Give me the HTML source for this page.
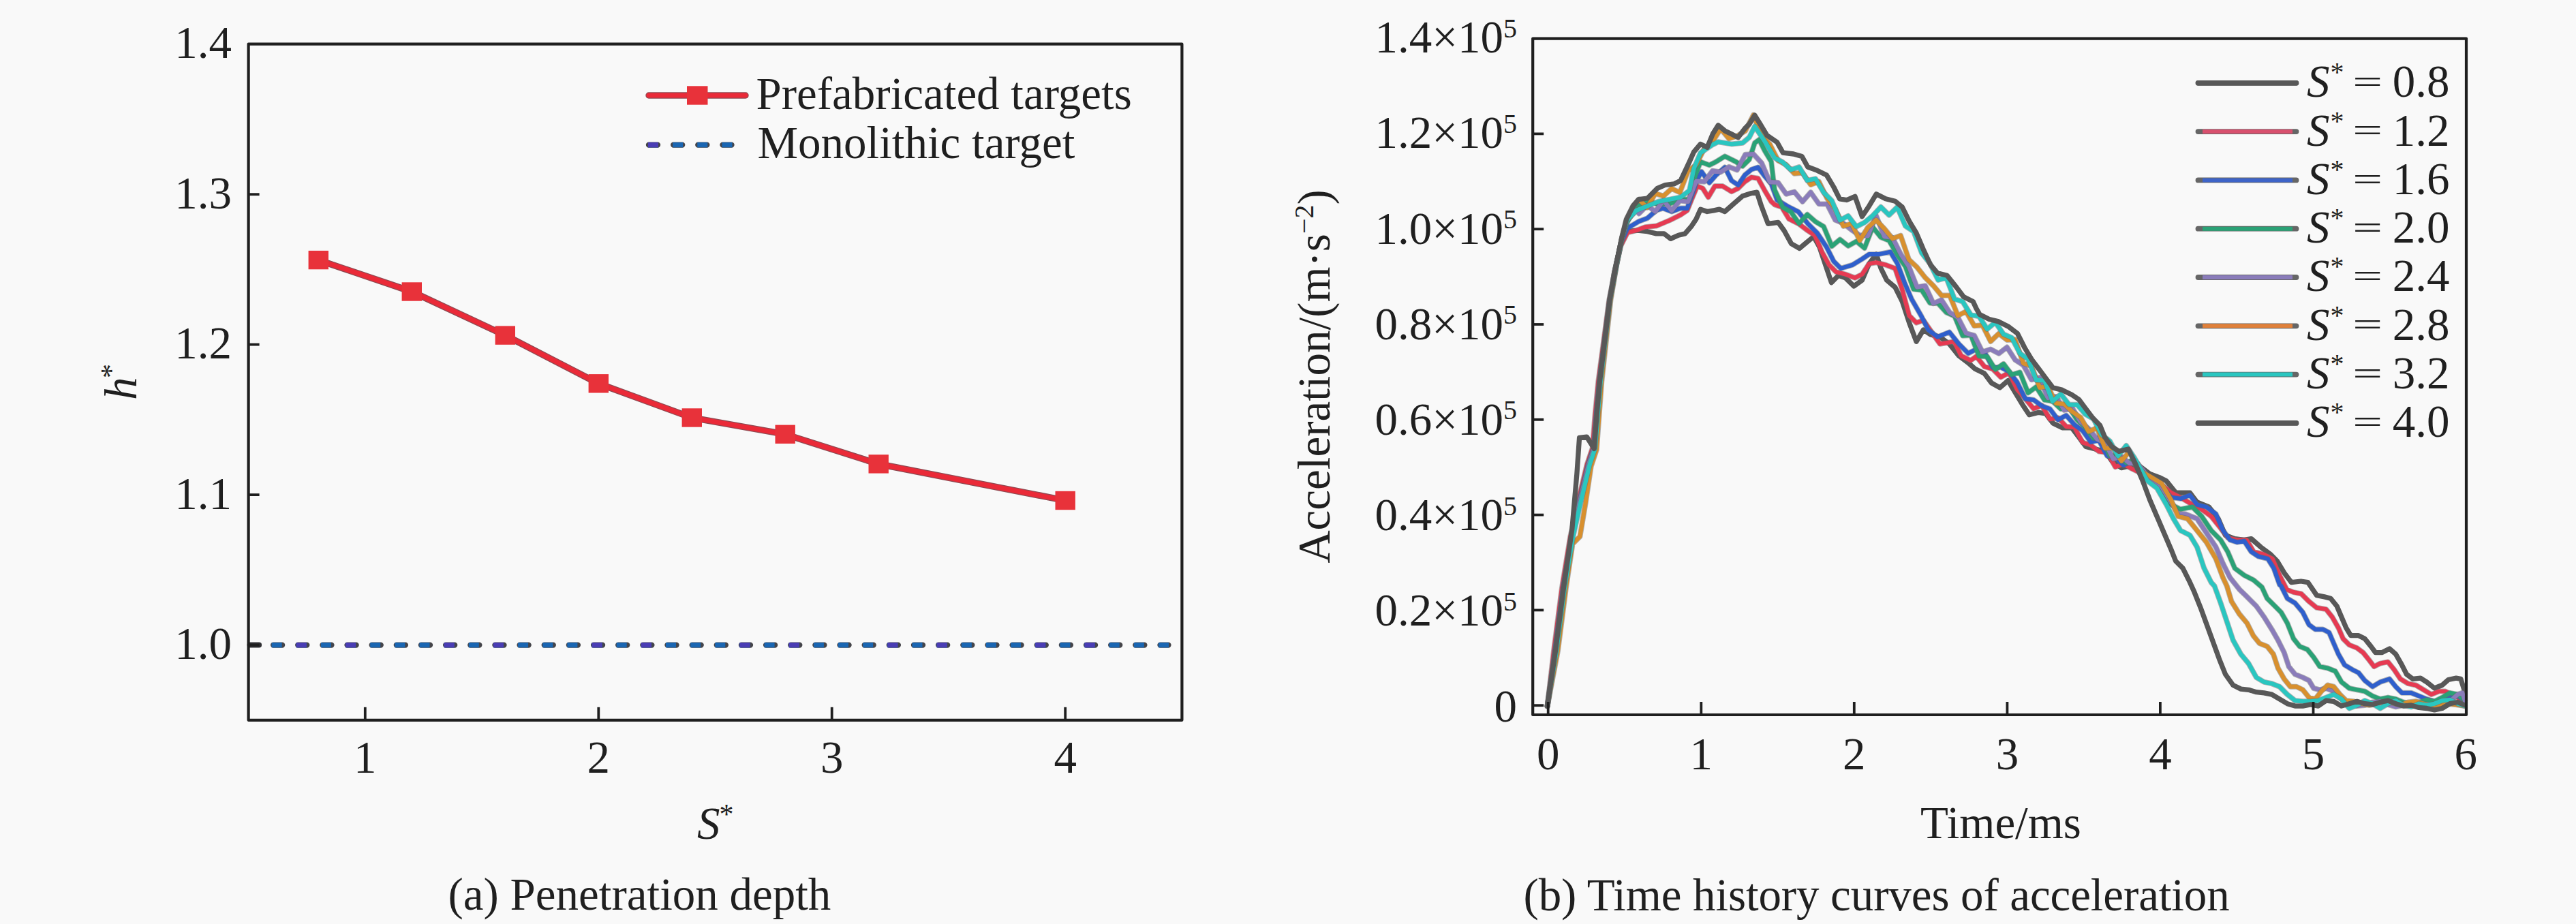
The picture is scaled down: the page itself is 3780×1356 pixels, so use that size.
<!DOCTYPE html>
<html lang="en"><head><meta charset="utf-8"><title>Penetration depth and acceleration time history</title>
<style>
html,body{margin:0;padding:0;background:#f9f9f9;}
body{width:3780px;height:1356px;overflow:hidden;}
svg{display:block;}
text{font-family:"Liberation Serif", "Times New Roman", serif;fill:#1f1f1f;}
.t{font-size:67px;}
.i{font-style:italic;}
.s{font-size:40px;}
.a{font-size:42px;}
</style></head><body>
<svg width="3780" height="1356" viewBox="0 0 3780 1356">
<rect x="0" y="0" width="3780" height="1356" fill="#f9f9f9"/>
<g id="left">
<g fill="none">
<line x1="366.6" y1="946.6" x2="380.1" y2="946.6" stroke="#303034" stroke-width="8" stroke-linecap="round"/>
<line x1="401.1" y1="946.6" x2="1714.4" y2="946.6" stroke="#45454a" stroke-width="8.4" stroke-linecap="round" stroke-dasharray="13 23.15"/>
<line x1="398.6" y1="946.6" x2="1715.4" y2="946.6" stroke="#1a66b2" stroke-width="7.4" stroke-dasharray="15 21.15"/>
<line x1="398.6" y1="946.6" x2="1715.4" y2="946.6" stroke="#4a3db4" stroke-width="7.4" stroke-dasharray="15 57.3 15 129.6" stroke-dashoffset="-36.15"/>
</g>
<polyline points="467.3,381.6 604.3,428.0 741.3,492.1 878.3,562.8 1015.3,613.0 1152.2,637.3 1289.2,680.9 1563.2,734.5" fill="none" stroke="#8f4a52" stroke-width="9.8" stroke-linejoin="round" stroke-linecap="round"/>
<polyline points="467.3,381.6 604.3,428.0 741.3,492.1 878.3,562.8 1015.3,613.0 1152.2,637.3 1289.2,680.9 1563.2,734.5" fill="none" stroke="#ea2a38" stroke-width="7.2" stroke-linejoin="round" stroke-linecap="round"/>
<rect x="452.6" y="367.9" width="29.4" height="27.4" fill="#e8323a"/>
<rect x="589.6" y="414.3" width="29.4" height="27.4" fill="#e8323a"/>
<rect x="726.6" y="478.4" width="29.4" height="27.4" fill="#e8323a"/>
<rect x="863.6" y="549.1" width="29.4" height="27.4" fill="#e8323a"/>
<rect x="1000.6" y="599.3" width="29.4" height="27.4" fill="#e8323a"/>
<rect x="1137.5" y="623.6" width="29.4" height="27.4" fill="#e8323a"/>
<rect x="1274.5" y="667.2" width="29.4" height="27.4" fill="#e8323a"/>
<rect x="1548.5" y="720.8" width="29.4" height="27.4" fill="#e8323a"/>
<rect x="364.6" y="64.7" width="1369.8" height="992.1" fill="none" stroke="#1f1f1f" stroke-width="4.2" stroke-linejoin="round"/>
<g stroke="#1f1f1f" stroke-width="3.8">
<line x1="535.8" y1="1056.8" x2="535.8" y2="1037.8"/>
<line x1="878.3" y1="1056.8" x2="878.3" y2="1037.8"/>
<line x1="1220.7" y1="1056.8" x2="1220.7" y2="1037.8"/>
<line x1="1563.2" y1="1056.8" x2="1563.2" y2="1037.8"/>
<line x1="364.6" y1="946.6" x2="380.6" y2="946.6"/>
<line x1="364.6" y1="726.1" x2="380.6" y2="726.1"/>
<line x1="364.6" y1="505.6" x2="380.6" y2="505.6"/>
<line x1="364.6" y1="285.2" x2="380.6" y2="285.2"/>
</g>
<g class="t" text-anchor="middle">
<text x="535.8" y="1134.3">1</text>
<text x="878.3" y="1134.3">2</text>
<text x="1220.7" y="1134.3">3</text>
<text x="1563.2" y="1134.3">4</text>
</g>
<g class="t" text-anchor="end">
<text x="340" y="967.1">1.0</text>
<text x="340" y="746.6">1.1</text>
<text x="340" y="526.1">1.2</text>
<text x="340" y="305.7">1.3</text>
<text x="340" y="85.2">1.4</text>
</g>
<text class="t i" x="1023" y="1231">S<tspan class="a" font-style="normal" dx="-1" dy="-22.5">*</tspan></text>
<text class="t i" transform="translate(199.5,587) rotate(-90)">h<tspan class="a" font-style="normal" dx="-1.5" dy="-23">*</tspan></text>
<line x1="952" y1="140" x2="1094" y2="140" stroke="#8f4a52" stroke-width="9.4" stroke-linecap="round"/>
<line x1="952" y1="140" x2="1094" y2="140" stroke="#ea2a38" stroke-width="7.0" stroke-linecap="round"/>
<rect x="1008" y="126.3" width="30.5" height="27.4" fill="#e8323a"/>
<g fill="none">
<line x1="952" y1="212.6" x2="1078.5" y2="212.6" stroke="#45454a" stroke-width="8.4" stroke-linecap="round" stroke-dasharray="13 23.15"/>
<line x1="951" y1="212.6" x2="1079.5" y2="212.6" stroke="#1a66b2" stroke-width="7.4" stroke-dasharray="15 21.15"/>
<line x1="951" y1="212.6" x2="966" y2="212.6" stroke="#4a3db4" stroke-width="7.4"/>
</g>
<text class="t" x="1109.5" y="160.3">Prefabricated targets</text>
<text class="t" x="1111.5" y="232.3">Monolithic target</text>
<text class="t" x="657.5" y="1335.3">(a) Penetration depth</text>
</g>
<g id="right">
<g fill="none" stroke-linejoin="round" stroke-linecap="round">
<polyline points="2270.6,1036.2 2282.5,955.0 2294.4,863.0 2306.8,787.3 2317.6,738.6 2331.2,681.8 2339.3,657.4 2343.1,608.7 2347.4,560.0 2362.2,440.0 2368.7,399.7 2376.8,364.0 2386.6,339.7 2402.8,338.1 2417.4,339.7 2430.4,342.9 2441.8,342.9 2451.5,350.4 2462.9,345.2 2472.6,342.9 2482.3,331.6 2488.8,321.8 2495.3,307.2 2505.1,310.5 2514.8,308.8 2522.9,307.2 2531.0,310.5 2544.0,299.1 2557.0,287.7 2570.0,283.5 2578.1,282.2 2584.6,302.3 2594.4,328.3 2609.4,326.4 2618.1,338.5 2628.5,357.6 2640.6,364.5 2651.0,355.8 2661.4,347.2 2670.0,362.8 2680.4,393.9 2687.4,414.7 2697.7,404.3 2708.1,407.8 2720.3,419.9 2732.4,411.3 2742.8,387.0 2753.2,373.2 2760.1,393.9 2768.7,411.3 2780.9,421.6 2791.3,442.4 2801.6,473.6 2812.0,501.3 2822.4,484.0 2832.8,490.9 2846.7,494.4 2860.5,504.8 2874.4,522.1 2888.2,532.5 2898.1,541.2 2911.9,548.1 2922.3,562.0 2934.5,568.9 2946.6,558.5 2957.0,575.8 2967.4,593.2 2977.7,608.7 2991.6,605.3 3002.0,607.0 3012.4,620.9 3026.2,627.8 3040.1,627.8 3050.5,641.6 3060.9,655.5 3074.7,659.0 3088.6,662.4 3099.0,676.3 3112.8,686.7 3126.7,683.2 3140.8,685.0 3154.6,695.4 3168.5,700.6 3178.9,705.8 3192.7,723.1 3213.5,723.1 3223.9,737.0 3241.2,743.9 3255.1,761.2 3265.5,785.5 3279.3,790.6 3293.2,792.4 3303.5,790.6 3317.4,802.8 3331.3,813.2 3341.6,823.5 3352.0,840.9 3362.4,854.7 3376.3,853.0 3386.7,854.7 3399.5,873.6 3410.9,875.9 3420.0,878.2 3429.1,889.5 3435.9,905.5 3442.7,921.4 3449.5,932.7 3460.9,932.7 3470.0,937.3 3479.1,948.6 3485.9,957.7 3495.0,957.7 3506.4,952.0 3515.5,960.0 3524.5,975.9 3531.4,989.5 3540.5,996.4 3551.8,995.2 3560.9,1000.9 3572.3,1010.0 3583.6,1005.5 3592.7,997.5 3604.1,995.2 3610.9,996.4 3616.6,1014.5 3617.0,1032.7" stroke="#585858" stroke-width="7.3"/>
<polyline points="2270.6,1036.2 2280.0,955.0 2291.9,863.0 2304.3,787.3 2315.1,738.6 2328.7,681.8 2336.8,657.4 2340.6,608.7 2345.3,560.0 2361.3,440.0 2369.9,396.5 2378.3,360.8 2388.2,341.3 2401.2,338.1 2414.2,333.2 2430.4,331.6 2449.9,323.4 2466.1,315.3 2475.8,308.8 2482.3,292.6 2490.5,273.1 2498.6,276.4 2506.7,289.4 2516.4,273.1 2527.8,273.1 2540.8,281.2 2550.5,276.4 2560.3,266.6 2570.0,260.1 2579.7,261.8 2589.5,279.6 2599.2,295.8 2604.2,300.4 2614.6,303.9 2625.0,321.2 2638.9,328.1 2652.7,338.5 2663.1,345.5 2673.5,369.7 2683.9,388.7 2694.3,399.1 2708.1,402.6 2722.0,407.8 2732.4,402.6 2742.8,387.0 2753.2,385.3 2767.0,388.7 2780.9,393.9 2791.3,425.1 2801.6,463.2 2812.0,473.6 2822.4,470.1 2834.5,487.4 2846.7,504.8 2867.4,501.3 2877.8,522.1 2891.7,529.0 2900.0,523.1 2912.0,538.0 2924.0,541.4 2936.0,553.5 2948.0,547.0 2960.0,571.7 2972.0,585.2 2984.0,599.8 2996.0,595.0 3008.0,615.1 3020.0,613.2 3032.0,625.9 3044.0,627.1 3056.0,649.4 3068.0,653.3 3080.0,662.5 3092.0,664.1 3104.0,685.3 3116.0,680.9 3128.0,687.7 3154.6,700.6 3171.9,711.0 3185.8,723.1 3199.7,730.0 3217.0,740.4 3230.8,747.4 3244.7,757.7 3258.5,775.1 3268.9,788.9 3282.8,792.4 3296.6,792.4 3307.0,809.7 3320.9,813.2 3334.7,820.1 3345.1,844.3 3355.5,865.1 3365.5,869.1 3376.8,871.4 3388.2,882.7 3399.5,891.8 3413.2,894.1 3422.3,905.5 3431.4,921.4 3438.2,937.3 3447.3,946.4 3458.6,950.9 3467.7,957.7 3476.8,969.1 3483.6,978.2 3492.7,973.6 3504.1,971.4 3513.2,982.7 3522.3,996.4 3533.6,1003.2 3545.0,1005.5 3556.4,1012.3 3567.7,1019.1 3579.1,1014.5 3588.2,1014.5 3597.3,1019.1 3606.4,1023.6 3617.0,1030.5" stroke="#6a6a6a" stroke-width="8.0" stroke-opacity="0.5"/>
<polyline points="2270.6,1036.2 2280.0,955.0 2291.9,863.0 2304.3,787.3 2315.1,738.6 2328.7,681.8 2336.8,657.4 2340.6,608.7 2345.3,560.0 2361.3,440.0 2369.9,396.5 2378.3,360.8 2388.2,341.3 2401.2,338.1 2414.2,333.2 2430.4,331.6 2449.9,323.4 2466.1,315.3 2475.8,308.8 2482.3,292.6 2490.5,273.1 2498.6,276.4 2506.7,289.4 2516.4,273.1 2527.8,273.1 2540.8,281.2 2550.5,276.4 2560.3,266.6 2570.0,260.1 2579.7,261.8 2589.5,279.6 2599.2,295.8 2604.2,300.4 2614.6,303.9 2625.0,321.2 2638.9,328.1 2652.7,338.5 2663.1,345.5 2673.5,369.7 2683.9,388.7 2694.3,399.1 2708.1,402.6 2722.0,407.8 2732.4,402.6 2742.8,387.0 2753.2,385.3 2767.0,388.7 2780.9,393.9 2791.3,425.1 2801.6,463.2 2812.0,473.6 2822.4,470.1 2834.5,487.4 2846.7,504.8 2867.4,501.3 2877.8,522.1 2891.7,529.0 2900.0,523.1 2912.0,538.0 2924.0,541.4 2936.0,553.5 2948.0,547.0 2960.0,571.7 2972.0,585.2 2984.0,599.8 2996.0,595.0 3008.0,615.1 3020.0,613.2 3032.0,625.9 3044.0,627.1 3056.0,649.4 3068.0,653.3 3080.0,662.5 3092.0,664.1 3104.0,685.3 3116.0,680.9 3128.0,687.7 3154.6,700.6 3171.9,711.0 3185.8,723.1 3199.7,730.0 3217.0,740.4 3230.8,747.4 3244.7,757.7 3258.5,775.1 3268.9,788.9 3282.8,792.4 3296.6,792.4 3307.0,809.7 3320.9,813.2 3334.7,820.1 3345.1,844.3 3355.5,865.1 3365.5,869.1 3376.8,871.4 3388.2,882.7 3399.5,891.8 3413.2,894.1 3422.3,905.5 3431.4,921.4 3438.2,937.3 3447.3,946.4 3458.6,950.9 3467.7,957.7 3476.8,969.1 3483.6,978.2 3492.7,973.6 3504.1,971.4 3513.2,982.7 3522.3,996.4 3533.6,1003.2 3545.0,1005.5 3556.4,1012.3 3567.7,1019.1 3579.1,1014.5 3588.2,1014.5 3597.3,1019.1 3606.4,1023.6 3617.0,1030.5" stroke="#e63a52" stroke-width="6.2"/>
<polyline points="2270.6,1036.2 2281.5,955.0 2293.4,863.0 2305.8,787.3 2316.6,738.6 2330.2,681.8 2338.3,657.4 2342.1,608.7 2346.6,560.0 2361.8,440.0 2370.1,394.9 2378.4,357.5 2388.2,334.8 2404.4,325.1 2417.4,320.2 2430.4,308.8 2440.1,305.6 2453.1,310.5 2466.1,305.6 2475.8,305.6 2484.0,282.9 2490.5,263.4 2496.9,252.0 2508.3,268.2 2518.1,256.9 2531.0,245.5 2540.8,265.0 2550.5,271.5 2560.3,256.9 2570.0,248.8 2579.7,245.5 2589.5,258.5 2599.2,269.9 2607.7,293.5 2625.0,303.9 2638.9,310.8 2652.7,328.1 2666.6,342.0 2680.4,362.8 2690.8,383.5 2701.2,393.9 2718.5,388.7 2732.4,380.1 2742.8,373.2 2756.6,373.2 2773.9,369.7 2784.3,387.0 2794.7,414.7 2805.1,439.0 2819.0,463.2 2829.4,484.0 2843.2,494.4 2860.5,487.4 2874.4,504.8 2888.2,518.6 2900.0,512.5 2912.0,516.6 2924.0,539.4 2936.0,538.9 2948.0,545.3 2960.0,561.0 2972.0,585.3 2984.0,586.8 2996.0,595.6 3008.0,600.1 3020.0,616.1 3032.0,609.6 3044.0,623.3 3056.0,631.9 3068.0,648.6 3080.0,646.2 3092.0,669.0 3104.0,671.5 3116.0,682.7 3128.0,676.7 3154.6,702.3 3171.9,714.5 3185.8,730.0 3199.7,731.8 3213.5,726.6 3223.9,740.4 3237.7,743.9 3251.6,754.3 3262.0,778.5 3272.4,792.4 3282.8,795.8 3293.2,794.1 3303.5,809.7 3313.9,816.6 3327.8,820.1 3336.5,833.9 3345.1,858.2 3347.3,860.0 3356.4,878.2 3367.7,885.0 3379.1,898.6 3388.2,916.8 3397.3,923.6 3408.6,923.6 3417.7,928.2 3424.5,944.1 3431.4,960.0 3440.5,975.9 3451.8,982.7 3460.9,987.3 3470.0,998.6 3481.4,1007.7 3492.7,1000.9 3506.4,996.4 3515.5,1007.7 3524.5,1016.8 3538.2,1016.8 3549.5,1021.4 3560.9,1025.9 3572.3,1029.3 3583.6,1028.2 3595.0,1023.6 3606.4,1021.4 3617.0,1028.2" stroke="#6a6a6a" stroke-width="8.0" stroke-opacity="0.5"/>
<polyline points="2270.6,1036.2 2281.5,955.0 2293.4,863.0 2305.8,787.3 2316.6,738.6 2330.2,681.8 2338.3,657.4 2342.1,608.7 2346.6,560.0 2361.8,440.0 2370.1,394.9 2378.4,357.5 2388.2,334.8 2404.4,325.1 2417.4,320.2 2430.4,308.8 2440.1,305.6 2453.1,310.5 2466.1,305.6 2475.8,305.6 2484.0,282.9 2490.5,263.4 2496.9,252.0 2508.3,268.2 2518.1,256.9 2531.0,245.5 2540.8,265.0 2550.5,271.5 2560.3,256.9 2570.0,248.8 2579.7,245.5 2589.5,258.5 2599.2,269.9 2607.7,293.5 2625.0,303.9 2638.9,310.8 2652.7,328.1 2666.6,342.0 2680.4,362.8 2690.8,383.5 2701.2,393.9 2718.5,388.7 2732.4,380.1 2742.8,373.2 2756.6,373.2 2773.9,369.7 2784.3,387.0 2794.7,414.7 2805.1,439.0 2819.0,463.2 2829.4,484.0 2843.2,494.4 2860.5,487.4 2874.4,504.8 2888.2,518.6 2900.0,512.5 2912.0,516.6 2924.0,539.4 2936.0,538.9 2948.0,545.3 2960.0,561.0 2972.0,585.3 2984.0,586.8 2996.0,595.6 3008.0,600.1 3020.0,616.1 3032.0,609.6 3044.0,623.3 3056.0,631.9 3068.0,648.6 3080.0,646.2 3092.0,669.0 3104.0,671.5 3116.0,682.7 3128.0,676.7 3154.6,702.3 3171.9,714.5 3185.8,730.0 3199.7,731.8 3213.5,726.6 3223.9,740.4 3237.7,743.9 3251.6,754.3 3262.0,778.5 3272.4,792.4 3282.8,795.8 3293.2,794.1 3303.5,809.7 3313.9,816.6 3327.8,820.1 3336.5,833.9 3345.1,858.2 3347.3,860.0 3356.4,878.2 3367.7,885.0 3379.1,898.6 3388.2,916.8 3397.3,923.6 3408.6,923.6 3417.7,928.2 3424.5,944.1 3431.4,960.0 3440.5,975.9 3451.8,982.7 3460.9,987.3 3470.0,998.6 3481.4,1007.7 3492.7,1000.9 3506.4,996.4 3515.5,1007.7 3524.5,1016.8 3538.2,1016.8 3549.5,1021.4 3560.9,1025.9 3572.3,1029.3 3583.6,1028.2 3595.0,1023.6 3606.4,1021.4 3617.0,1028.2" stroke="#2f5fcc" stroke-width="6.2"/>
<polyline points="2270.6,1036.2 2282.5,955.0 2294.4,863.0 2306.8,787.3 2317.6,738.6 2331.2,681.8 2339.3,657.4 2343.1,608.7 2347.4,560.0 2362.2,440.0 2371.3,391.6 2379.4,352.7 2387.5,326.7 2401.2,302.3 2417.4,295.8 2430.4,299.1 2449.9,299.1 2466.1,292.6 2479.1,292.6 2485.6,263.4 2495.3,237.4 2508.3,242.3 2518.1,237.4 2531.0,229.3 2547.3,237.4 2557.0,243.9 2566.8,234.2 2574.9,209.8 2581.4,204.9 2589.5,221.2 2599.2,237.4 2604.0,278.4 2616.0,304.3 2628.0,311.0 2640.0,328.0 2652.0,314.7 2664.0,325.3 2676.0,332.4 2688.0,361.4 2700.0,351.4 2712.0,360.9 2724.0,354.2 2736.0,364.1 2748.0,333.2 2760.0,348.2 2772.0,353.1 2784.0,373.8 2796.0,391.2 2808.0,424.4 2820.0,425.8 2832.0,444.7 2844.0,445.2 2856.0,458.5 2868.0,463.8 2880.0,492.7 2892.0,491.9 2904.0,522.6 2916.0,523.4 2928.0,542.2 2940.0,533.9 2952.0,549.9 2964.0,546.3 2976.0,576.5 2988.0,567.8 3000.0,587.0 3012.0,588.8 3024.0,600.2 3036.0,597.8 3048.0,616.3 3060.0,627.5 3072.0,643.1 3084.0,643.1 3096.0,669.0 3108.0,667.8 3120.0,679.3 3132.0,674.4 3154.6,705.8 3171.9,719.7 3185.8,740.4 3199.7,747.4 3217.0,743.9 3230.8,757.7 3244.7,778.5 3258.5,792.4 3268.9,809.7 3279.3,833.9 3293.2,844.3 3307.0,851.3 3319.1,861.6 3326.8,878.2 3338.2,889.5 3347.3,898.6 3356.4,914.5 3365.5,937.3 3374.5,948.6 3385.9,953.2 3395.0,964.5 3404.1,978.2 3415.5,980.5 3426.8,985.0 3435.9,1000.9 3447.3,1010.0 3458.6,1012.3 3470.0,1014.5 3481.4,1021.4 3492.7,1025.9 3504.1,1023.6 3515.5,1025.9 3526.8,1030.5 3538.2,1032.7 3549.5,1030.5 3560.9,1027.0 3572.3,1029.3 3583.6,1023.6 3595.0,1016.8 3606.4,1019.1 3617.0,1028.2" stroke="#6a6a6a" stroke-width="8.0" stroke-opacity="0.5"/>
<polyline points="2270.6,1036.2 2282.5,955.0 2294.4,863.0 2306.8,787.3 2317.6,738.6 2331.2,681.8 2339.3,657.4 2343.1,608.7 2347.4,560.0 2362.2,440.0 2371.3,391.6 2379.4,352.7 2387.5,326.7 2401.2,302.3 2417.4,295.8 2430.4,299.1 2449.9,299.1 2466.1,292.6 2479.1,292.6 2485.6,263.4 2495.3,237.4 2508.3,242.3 2518.1,237.4 2531.0,229.3 2547.3,237.4 2557.0,243.9 2566.8,234.2 2574.9,209.8 2581.4,204.9 2589.5,221.2 2599.2,237.4 2604.0,278.4 2616.0,304.3 2628.0,311.0 2640.0,328.0 2652.0,314.7 2664.0,325.3 2676.0,332.4 2688.0,361.4 2700.0,351.4 2712.0,360.9 2724.0,354.2 2736.0,364.1 2748.0,333.2 2760.0,348.2 2772.0,353.1 2784.0,373.8 2796.0,391.2 2808.0,424.4 2820.0,425.8 2832.0,444.7 2844.0,445.2 2856.0,458.5 2868.0,463.8 2880.0,492.7 2892.0,491.9 2904.0,522.6 2916.0,523.4 2928.0,542.2 2940.0,533.9 2952.0,549.9 2964.0,546.3 2976.0,576.5 2988.0,567.8 3000.0,587.0 3012.0,588.8 3024.0,600.2 3036.0,597.8 3048.0,616.3 3060.0,627.5 3072.0,643.1 3084.0,643.1 3096.0,669.0 3108.0,667.8 3120.0,679.3 3132.0,674.4 3154.6,705.8 3171.9,719.7 3185.8,740.4 3199.7,747.4 3217.0,743.9 3230.8,757.7 3244.7,778.5 3258.5,792.4 3268.9,809.7 3279.3,833.9 3293.2,844.3 3307.0,851.3 3319.1,861.6 3326.8,878.2 3338.2,889.5 3347.3,898.6 3356.4,914.5 3365.5,937.3 3374.5,948.6 3385.9,953.2 3395.0,964.5 3404.1,978.2 3415.5,980.5 3426.8,985.0 3435.9,1000.9 3447.3,1010.0 3458.6,1012.3 3470.0,1014.5 3481.4,1021.4 3492.7,1025.9 3504.1,1023.6 3515.5,1025.9 3526.8,1030.5 3538.2,1032.7 3549.5,1030.5 3560.9,1027.0 3572.3,1029.3 3583.6,1023.6 3595.0,1016.8 3606.4,1019.1 3617.0,1028.2" stroke="#2aa276" stroke-width="6.2"/>
<polyline points="2270.6,1036.2 2282.5,955.0 2294.4,863.0 2306.8,787.3 2317.6,738.6 2331.2,681.8 2339.3,657.4 2343.1,608.7 2347.4,560.0 2362.2,440.0 2371.9,388.4 2380.1,349.4 2387.2,323.4 2401.2,308.8 2405.0,313.5 2417.0,301.4 2429.0,310.4 2441.0,294.1 2453.0,309.1 2465.0,294.6 2477.0,295.8 2489.0,265.8 2501.0,266.7 2513.0,250.6 2525.0,252.4 2537.0,244.8 2549.0,249.4 2561.0,226.8 2573.0,226.2 2585.0,239.2 2597.0,267.1 2609.0,267.9 2621.0,284.8 2633.0,281.5 2645.0,296.0 2657.0,282.2 2669.0,299.3 2681.0,299.4 2693.0,322.9 2705.0,327.8 2717.0,337.3 2729.0,345.3 2741.0,346.1 2753.0,316.4 2765.0,347.2 2777.0,348.7 2789.0,372.7 2801.0,390.9 2813.0,421.4 2825.0,419.4 2837.0,445.4 2849.0,440.2 2861.0,458.6 2873.0,465.9 2885.0,489.0 2897.0,492.4 2909.0,516.5 2921.0,512.5 2933.0,518.8 2945.0,509.6 2957.0,528.2 2969.0,535.8 2981.0,557.3 2993.0,554.0 3005.0,583.9 3017.0,582.0 3029.0,601.9 3041.0,599.2 3053.0,618.9 3065.0,629.3 3077.0,644.2 3089.0,650.4 3101.0,673.5 3113.0,670.3 3125.0,680.0 3137.0,680.5 3154.6,702.3 3171.9,714.5 3185.8,737.0 3196.2,754.3 3206.6,754.3 3223.9,761.2 3237.7,782.0 3251.6,802.8 3262.0,827.0 3272.4,847.8 3286.2,865.1 3295.0,873.6 3310.9,889.5 3322.3,905.5 3333.6,923.6 3342.7,939.5 3351.8,957.7 3358.6,978.2 3367.7,989.5 3379.1,994.1 3388.2,998.6 3395.0,1010.0 3404.1,1012.3 3413.2,1010.0 3424.5,1014.5 3435.9,1025.9 3447.3,1033.9 3458.6,1036.1 3470.0,1035.0 3481.4,1030.5 3492.7,1029.3 3504.1,1033.9 3515.5,1037.3 3526.8,1035.0 3538.2,1031.6 3549.5,1032.7 3560.9,1036.1 3572.3,1037.3 3583.6,1033.9 3595.0,1029.3 3606.4,1019.1 3613.2,1016.8 3617.0,1028.2" stroke="#6a6a6a" stroke-width="8.0" stroke-opacity="0.5"/>
<polyline points="2270.6,1036.2 2282.5,955.0 2294.4,863.0 2306.8,787.3 2317.6,738.6 2331.2,681.8 2339.3,657.4 2343.1,608.7 2347.4,560.0 2362.2,440.0 2371.9,388.4 2380.1,349.4 2387.2,323.4 2401.2,308.8 2405.0,313.5 2417.0,301.4 2429.0,310.4 2441.0,294.1 2453.0,309.1 2465.0,294.6 2477.0,295.8 2489.0,265.8 2501.0,266.7 2513.0,250.6 2525.0,252.4 2537.0,244.8 2549.0,249.4 2561.0,226.8 2573.0,226.2 2585.0,239.2 2597.0,267.1 2609.0,267.9 2621.0,284.8 2633.0,281.5 2645.0,296.0 2657.0,282.2 2669.0,299.3 2681.0,299.4 2693.0,322.9 2705.0,327.8 2717.0,337.3 2729.0,345.3 2741.0,346.1 2753.0,316.4 2765.0,347.2 2777.0,348.7 2789.0,372.7 2801.0,390.9 2813.0,421.4 2825.0,419.4 2837.0,445.4 2849.0,440.2 2861.0,458.6 2873.0,465.9 2885.0,489.0 2897.0,492.4 2909.0,516.5 2921.0,512.5 2933.0,518.8 2945.0,509.6 2957.0,528.2 2969.0,535.8 2981.0,557.3 2993.0,554.0 3005.0,583.9 3017.0,582.0 3029.0,601.9 3041.0,599.2 3053.0,618.9 3065.0,629.3 3077.0,644.2 3089.0,650.4 3101.0,673.5 3113.0,670.3 3125.0,680.0 3137.0,680.5 3154.6,702.3 3171.9,714.5 3185.8,737.0 3196.2,754.3 3206.6,754.3 3223.9,761.2 3237.7,782.0 3251.6,802.8 3262.0,827.0 3272.4,847.8 3286.2,865.1 3295.0,873.6 3310.9,889.5 3322.3,905.5 3333.6,923.6 3342.7,939.5 3351.8,957.7 3358.6,978.2 3367.7,989.5 3379.1,994.1 3388.2,998.6 3395.0,1010.0 3404.1,1012.3 3413.2,1010.0 3424.5,1014.5 3435.9,1025.9 3447.3,1033.9 3458.6,1036.1 3470.0,1035.0 3481.4,1030.5 3492.7,1029.3 3504.1,1033.9 3515.5,1037.3 3526.8,1035.0 3538.2,1031.6 3549.5,1032.7 3560.9,1036.1 3572.3,1037.3 3583.6,1033.9 3595.0,1029.3 3606.4,1019.1 3613.2,1016.8 3617.0,1028.2" stroke="#8a7cba" stroke-width="6.2"/>
<polyline points="2270.6,1036.2 2286.0,955.0 2297.9,863.0 2307.6,798.1 2318.4,787.3 2326.6,738.6 2334.7,684.5 2342.8,660.1 2346.6,608.7 2350.3,560.0 2363.5,440.0 2372.5,386.8 2380.1,347.8 2386.6,321.8 2396.3,302.3 2405.0,292.8 2417.0,304.6 2429.0,284.1 2441.0,287.6 2453.0,276.8 2465.0,282.5 2477.0,251.0 2489.0,241.8 2501.0,217.7 2513.0,207.5 2525.0,189.1 2537.0,203.4 2549.0,199.7 2561.0,192.2 2573.0,168.8 2585.0,198.8 2597.0,211.7 2609.0,235.4 2621.0,241.7 2633.0,254.7 2645.0,253.7 2657.0,271.0 2669.0,266.6 2681.0,291.0 2693.0,306.4 2705.0,331.9 2717.0,328.0 2729.0,352.9 2741.0,333.7 2753.0,323.0 2765.0,335.5 2777.0,350.1 2789.0,345.7 2801.0,380.8 2813.0,392.2 2825.0,407.4 2837.0,419.3 2849.0,433.6 2861.0,433.5 2873.0,463.3 2885.0,457.0 2897.0,478.2 2909.0,477.1 2921.0,501.0 2933.0,489.6 2945.0,498.9 2957.0,498.3 2969.0,533.0 2981.0,537.4 2993.0,568.9 3005.0,566.9 3017.0,591.8 3029.0,592.9 3041.0,604.3 3053.0,612.5 3065.0,633.4 3077.0,627.9 3089.0,657.8 3101.0,657.3 3113.0,676.6 3125.0,662.3 3137.0,689.1 3154.6,698.9 3171.9,709.3 3185.8,733.5 3196.2,757.7 3210.0,761.2 3223.9,778.5 3237.7,795.8 3251.6,820.1 3262.0,847.8 3267.7,860.0 3274.5,882.7 3285.9,900.9 3297.3,914.5 3306.4,932.7 3315.5,944.1 3326.8,948.6 3335.9,960.0 3342.7,980.5 3351.8,996.4 3360.9,1007.7 3370.0,1007.7 3379.1,1012.3 3388.2,1023.6 3397.3,1025.9 3406.4,1014.5 3415.5,1005.5 3424.5,1007.7 3433.6,1019.1 3442.7,1028.2 3454.1,1029.3 3465.5,1032.7 3476.8,1035.0 3488.2,1032.7 3499.5,1029.3 3510.9,1031.6 3522.3,1035.0 3533.6,1030.5 3545.0,1029.3 3556.4,1032.7 3567.7,1036.1 3579.1,1035.0 3590.5,1032.7 3601.8,1033.9 3617.0,1036.1" stroke="#6a6a6a" stroke-width="8.0" stroke-opacity="0.5"/>
<polyline points="2270.6,1036.2 2286.0,955.0 2297.9,863.0 2307.6,798.1 2318.4,787.3 2326.6,738.6 2334.7,684.5 2342.8,660.1 2346.6,608.7 2350.3,560.0 2363.5,440.0 2372.5,386.8 2380.1,347.8 2386.6,321.8 2396.3,302.3 2405.0,292.8 2417.0,304.6 2429.0,284.1 2441.0,287.6 2453.0,276.8 2465.0,282.5 2477.0,251.0 2489.0,241.8 2501.0,217.7 2513.0,207.5 2525.0,189.1 2537.0,203.4 2549.0,199.7 2561.0,192.2 2573.0,168.8 2585.0,198.8 2597.0,211.7 2609.0,235.4 2621.0,241.7 2633.0,254.7 2645.0,253.7 2657.0,271.0 2669.0,266.6 2681.0,291.0 2693.0,306.4 2705.0,331.9 2717.0,328.0 2729.0,352.9 2741.0,333.7 2753.0,323.0 2765.0,335.5 2777.0,350.1 2789.0,345.7 2801.0,380.8 2813.0,392.2 2825.0,407.4 2837.0,419.3 2849.0,433.6 2861.0,433.5 2873.0,463.3 2885.0,457.0 2897.0,478.2 2909.0,477.1 2921.0,501.0 2933.0,489.6 2945.0,498.9 2957.0,498.3 2969.0,533.0 2981.0,537.4 2993.0,568.9 3005.0,566.9 3017.0,591.8 3029.0,592.9 3041.0,604.3 3053.0,612.5 3065.0,633.4 3077.0,627.9 3089.0,657.8 3101.0,657.3 3113.0,676.6 3125.0,662.3 3137.0,689.1 3154.6,698.9 3171.9,709.3 3185.8,733.5 3196.2,757.7 3210.0,761.2 3223.9,778.5 3237.7,795.8 3251.6,820.1 3262.0,847.8 3267.7,860.0 3274.5,882.7 3285.9,900.9 3297.3,914.5 3306.4,932.7 3315.5,944.1 3326.8,948.6 3335.9,960.0 3342.7,980.5 3351.8,996.4 3360.9,1007.7 3370.0,1007.7 3379.1,1012.3 3388.2,1023.6 3397.3,1025.9 3406.4,1014.5 3415.5,1005.5 3424.5,1007.7 3433.6,1019.1 3442.7,1028.2 3454.1,1029.3 3465.5,1032.7 3476.8,1035.0 3488.2,1032.7 3499.5,1029.3 3510.9,1031.6 3522.3,1035.0 3533.6,1030.5 3545.0,1029.3 3556.4,1032.7 3567.7,1036.1 3579.1,1035.0 3590.5,1032.7 3601.8,1033.9 3617.0,1036.1" stroke="#d8902e" stroke-width="6.2"/>
<polyline points="2270.6,1036.2 2284.0,955.0 2295.9,863.0 2308.3,787.3 2319.1,738.6 2332.7,681.8 2340.8,657.4 2344.6,608.7 2348.7,560.0 2362.7,440.0 2372.2,388.4 2380.1,349.4 2387.2,323.4 2401.2,308.8 2417.4,302.3 2433.6,295.8 2449.9,292.6 2466.1,289.4 2479.1,279.6 2485.6,247.1 2495.3,224.4 2511.6,213.1 2521.3,208.2 2540.8,211.4 2557.0,209.8 2566.8,201.7 2574.9,185.5 2581.4,195.2 2591.1,209.8 2604.0,231.5 2616.0,238.1 2628.0,249.1 2640.0,245.1 2652.0,264.8 2664.0,262.3 2676.0,282.4 2688.0,294.5 2700.0,323.2 2712.0,316.8 2724.0,332.6 2736.0,326.5 2748.0,316.5 2760.0,303.8 2772.0,315.6 2784.0,304.0 2796.0,331.7 2808.0,339.6 2820.0,371.3 2832.0,386.8 2844.0,410.9 2856.0,407.6 2868.0,438.8 2880.0,442.6 2892.0,462.1 2904.0,464.3 2916.0,483.0 2928.0,472.9 2940.0,490.5 2952.0,495.6 2964.0,518.6 2976.0,527.0 2988.0,557.9 3000.0,558.5 3012.0,589.0 3024.0,578.2 3036.0,593.7 3048.0,593.8 3060.0,607.8 3072.0,614.9 3084.0,637.9 3096.0,647.3 3108.0,669.2 3120.0,654.0 3132.0,672.0 3151.2,705.8 3165.0,716.2 3178.9,740.4 3189.3,761.2 3199.7,778.5 3213.5,785.5 3223.9,802.8 3234.3,833.9 3244.7,854.7 3249.5,860.0 3258.6,885.0 3267.7,912.3 3276.8,939.5 3288.2,960.0 3299.5,973.6 3310.9,994.1 3322.3,1000.9 3333.6,1003.2 3345.0,1007.7 3356.4,1019.1 3367.7,1028.2 3379.1,1029.3 3390.5,1029.3 3401.8,1028.2 3413.2,1023.6 3424.5,1019.1 3435.9,1025.9 3447.3,1039.5 3458.6,1035.0 3470.0,1028.2 3481.4,1032.7 3492.7,1039.5 3504.1,1032.7 3515.5,1028.2 3526.8,1035.0 3538.2,1037.3 3549.5,1032.7 3560.9,1035.0 3572.3,1032.7 3583.6,1028.2 3595.0,1027.0 3606.4,1032.7 3617.0,1036.1" stroke="#6a6a6a" stroke-width="8.0" stroke-opacity="0.5"/>
<polyline points="2270.6,1036.2 2284.0,955.0 2295.9,863.0 2308.3,787.3 2319.1,738.6 2332.7,681.8 2340.8,657.4 2344.6,608.7 2348.7,560.0 2362.7,440.0 2372.2,388.4 2380.1,349.4 2387.2,323.4 2401.2,308.8 2417.4,302.3 2433.6,295.8 2449.9,292.6 2466.1,289.4 2479.1,279.6 2485.6,247.1 2495.3,224.4 2511.6,213.1 2521.3,208.2 2540.8,211.4 2557.0,209.8 2566.8,201.7 2574.9,185.5 2581.4,195.2 2591.1,209.8 2604.0,231.5 2616.0,238.1 2628.0,249.1 2640.0,245.1 2652.0,264.8 2664.0,262.3 2676.0,282.4 2688.0,294.5 2700.0,323.2 2712.0,316.8 2724.0,332.6 2736.0,326.5 2748.0,316.5 2760.0,303.8 2772.0,315.6 2784.0,304.0 2796.0,331.7 2808.0,339.6 2820.0,371.3 2832.0,386.8 2844.0,410.9 2856.0,407.6 2868.0,438.8 2880.0,442.6 2892.0,462.1 2904.0,464.3 2916.0,483.0 2928.0,472.9 2940.0,490.5 2952.0,495.6 2964.0,518.6 2976.0,527.0 2988.0,557.9 3000.0,558.5 3012.0,589.0 3024.0,578.2 3036.0,593.7 3048.0,593.8 3060.0,607.8 3072.0,614.9 3084.0,637.9 3096.0,647.3 3108.0,669.2 3120.0,654.0 3132.0,672.0 3151.2,705.8 3165.0,716.2 3178.9,740.4 3189.3,761.2 3199.7,778.5 3213.5,785.5 3223.9,802.8 3234.3,833.9 3244.7,854.7 3249.5,860.0 3258.6,885.0 3267.7,912.3 3276.8,939.5 3288.2,960.0 3299.5,973.6 3310.9,994.1 3322.3,1000.9 3333.6,1003.2 3345.0,1007.7 3356.4,1019.1 3367.7,1028.2 3379.1,1029.3 3390.5,1029.3 3401.8,1028.2 3413.2,1023.6 3424.5,1019.1 3435.9,1025.9 3447.3,1039.5 3458.6,1035.0 3470.0,1028.2 3481.4,1032.7 3492.7,1039.5 3504.1,1032.7 3515.5,1028.2 3526.8,1035.0 3538.2,1037.3 3549.5,1032.7 3560.9,1035.0 3572.3,1032.7 3583.6,1028.2 3595.0,1027.0 3606.4,1032.7 3617.0,1036.1" stroke="#2ac6c0" stroke-width="6.2"/>
<polyline points="2270.6,1036.2 2282.5,955.0 2294.4,863.0 2306.8,776.5 2313.9,695.3 2317.6,642.3 2328.5,641.2 2339.3,658.5 2343.1,608.7 2347.4,560.0 2362.2,440.0 2371.9,386.8 2380.1,347.8 2386.6,321.8 2396.3,302.3 2404.4,292.6 2417.4,291.0 2432.0,276.4 2443.4,271.5 2456.4,269.9 2466.1,265.0 2479.1,237.4 2485.6,222.8 2495.3,211.4 2505.1,216.3 2513.2,196.8 2521.3,183.8 2531.0,191.9 2540.8,196.8 2550.5,201.7 2560.3,188.7 2566.8,182.2 2574.9,169.2 2583.0,182.2 2592.7,198.4 2607.7,208.7 2616.4,224.2 2631.9,226.0 2644.1,229.4 2652.7,245.0 2666.6,250.2 2680.4,257.1 2690.8,274.5 2699.5,291.8 2709.9,293.5 2722.0,288.3 2732.4,317.7 2742.8,302.2 2753.2,284.8 2767.0,291.8 2780.9,295.2 2791.3,303.9 2801.6,324.7 2812.0,342.0 2822.4,366.2 2832.8,388.7 2843.2,400.9 2857.1,404.3 2870.9,421.6 2881.3,435.5 2895.2,442.4 2900.0,452.8 2905.0,461.6 2918.9,468.5 2932.7,471.9 2946.6,478.9 2960.4,489.3 2970.8,510.0 2981.2,527.4 2991.6,541.2 3002.0,555.1 3012.4,568.9 3026.2,572.4 3040.1,579.3 3050.5,586.2 3060.9,600.1 3071.3,613.9 3081.6,624.3 3088.6,641.6 3099.0,655.5 3109.4,662.4 3123.2,659.0 3133.9,681.6 3144.2,705.8 3154.6,733.5 3165.0,757.7 3175.4,782.0 3185.8,806.2 3192.7,823.5 3203.1,833.9 3213.5,854.7 3220.0,869.1 3229.1,891.8 3238.2,916.8 3247.3,941.8 3256.4,966.8 3265.5,989.5 3276.8,1005.5 3288.2,1011.1 3299.5,1012.3 3310.9,1015.7 3322.3,1016.8 3333.6,1019.1 3345.0,1025.9 3356.4,1032.7 3367.7,1036.1 3379.1,1036.1 3390.5,1033.9 3401.8,1036.1 3413.2,1028.2 3424.5,1029.3 3435.9,1036.1 3447.3,1032.7 3458.6,1029.3 3470.0,1032.7 3481.4,1033.9 3492.7,1030.5 3504.1,1028.2 3515.5,1032.7 3526.8,1036.1 3538.2,1035.0 3549.5,1038.4 3560.9,1039.5 3572.3,1041.8 3583.6,1039.5 3595.0,1032.7 3606.4,1030.5 3617.0,1035.0" stroke="#585858" stroke-width="7.3"/>
</g>
<rect x="2249.2" y="56.6" width="1369.8" height="992.4" fill="none" stroke="#1f1f1f" stroke-width="4.2" stroke-linejoin="round"/>
<g stroke="#1f1f1f" stroke-width="3.8">
<line x1="2271.7" y1="1049.0" x2="2271.7" y2="1030.0"/>
<line x1="2496.3" y1="1049.0" x2="2496.3" y2="1030.0"/>
<line x1="2720.8" y1="1049.0" x2="2720.8" y2="1030.0"/>
<line x1="2945.4" y1="1049.0" x2="2945.4" y2="1030.0"/>
<line x1="3169.9" y1="1049.0" x2="3169.9" y2="1030.0"/>
<line x1="3394.5" y1="1049.0" x2="3394.5" y2="1030.0"/>
<line x1="2249.2" y1="1035.2" x2="2265.2" y2="1035.2"/>
<line x1="2249.2" y1="895.4" x2="2265.2" y2="895.4"/>
<line x1="2249.2" y1="755.6" x2="2265.2" y2="755.6"/>
<line x1="2249.2" y1="615.8" x2="2265.2" y2="615.8"/>
<line x1="2249.2" y1="476.0" x2="2265.2" y2="476.0"/>
<line x1="2249.2" y1="336.2" x2="2265.2" y2="336.2"/>
<line x1="2249.2" y1="196.4" x2="2265.2" y2="196.4"/>
</g>
<g class="t" text-anchor="middle">
<text x="2271.7" y="1128.8">0</text>
<text x="2496.3" y="1128.8">1</text>
<text x="2720.8" y="1128.8">2</text>
<text x="2945.4" y="1128.8">3</text>
<text x="3169.9" y="1128.8">4</text>
<text x="3394.5" y="1128.8">5</text>
<text x="3618.3" y="1128.8">6</text>
</g>
<g class="t" text-anchor="end">
<text x="2226" y="1059.0">0</text>
<text x="2226" y="918.3">0.2×10<tspan class="s" dy="-22.5">5</tspan></text>
<text x="2226" y="778.1">0.4×10<tspan class="s" dy="-22.5">5</tspan></text>
<text x="2226" y="637.9">0.6×10<tspan class="s" dy="-22.5">5</tspan></text>
<text x="2226" y="497.7">0.8×10<tspan class="s" dy="-22.5">5</tspan></text>
<text x="2226" y="357.5">1.0×10<tspan class="s" dy="-22.5">5</tspan></text>
<text x="2226" y="217.3">1.2×10<tspan class="s" dy="-22.5">5</tspan></text>
<text x="2226" y="77.1">1.4×10<tspan class="s" dy="-22.5">5</tspan></text>
</g>
<text class="t" text-anchor="middle" x="2936" y="1230.3">Time/ms</text>
<text class="t" text-anchor="middle" transform="translate(1951,552.5) rotate(-90)">Acceleration/(m·s<tspan class="s" dy="-24.5">−2</tspan><tspan dy="24.5">)</tspan></text>
<g stroke-linecap="round">
<line x1="3225.5" y1="121.8" x2="3369.5" y2="121.8" stroke="#666666" stroke-width="7.8"/>
<line x1="3225.5" y1="121.8" x2="3369.5" y2="121.8" stroke="#585858" stroke-width="7.4"/>
<line x1="3225.5" y1="193.1" x2="3369.5" y2="193.1" stroke="#666666" stroke-width="7.8"/>
<line x1="3232" y1="193.1" x2="3364" y2="193.1" stroke="#d8506e" stroke-width="6.0" stroke-linecap="butt"/>
<line x1="3225.5" y1="264.4" x2="3369.5" y2="264.4" stroke="#666666" stroke-width="7.8"/>
<line x1="3232" y1="264.4" x2="3364" y2="264.4" stroke="#3e64c8" stroke-width="6.0" stroke-linecap="butt"/>
<line x1="3225.5" y1="335.7" x2="3369.5" y2="335.7" stroke="#666666" stroke-width="7.8"/>
<line x1="3232" y1="335.7" x2="3364" y2="335.7" stroke="#2aa276" stroke-width="6.0" stroke-linecap="butt"/>
<line x1="3225.5" y1="407.0" x2="3369.5" y2="407.0" stroke="#666666" stroke-width="7.8"/>
<line x1="3232" y1="407.0" x2="3364" y2="407.0" stroke="#8a7cba" stroke-width="6.0" stroke-linecap="butt"/>
<line x1="3225.5" y1="478.3" x2="3369.5" y2="478.3" stroke="#666666" stroke-width="7.8"/>
<line x1="3232" y1="478.3" x2="3364" y2="478.3" stroke="#e0803a" stroke-width="6.0" stroke-linecap="butt"/>
<line x1="3225.5" y1="549.6" x2="3369.5" y2="549.6" stroke="#666666" stroke-width="7.8"/>
<line x1="3232" y1="549.6" x2="3364" y2="549.6" stroke="#2ac6c0" stroke-width="6.0" stroke-linecap="butt"/>
<line x1="3225.5" y1="620.9" x2="3369.5" y2="620.9" stroke="#666666" stroke-width="7.8"/>
<line x1="3225.5" y1="620.9" x2="3369.5" y2="620.9" stroke="#585858" stroke-width="7.4"/>
</g>
<g class="t">
<text x="3385" y="142.2" class="t i">S</text>
<text x="3419.4" y="119.2" style="font-size:40px">*</text>
<text x="3474.2" y="142.2" text-anchor="middle" transform="translate(3474.2,120.0) scale(1.157,0.72) translate(-3474.2,-120.0)">=</text>
<text x="3510.8" y="142.2">0.8</text>
<text x="3385" y="213.5" class="t i">S</text>
<text x="3419.4" y="190.5" style="font-size:40px">*</text>
<text x="3474.2" y="213.5" text-anchor="middle" transform="translate(3474.2,191.3) scale(1.157,0.72) translate(-3474.2,-191.3)">=</text>
<text x="3510.8" y="213.5">1.2</text>
<text x="3385" y="284.8" class="t i">S</text>
<text x="3419.4" y="261.8" style="font-size:40px">*</text>
<text x="3474.2" y="284.8" text-anchor="middle" transform="translate(3474.2,262.6) scale(1.157,0.72) translate(-3474.2,-262.6)">=</text>
<text x="3510.8" y="284.8">1.6</text>
<text x="3385" y="356.1" class="t i">S</text>
<text x="3419.4" y="333.1" style="font-size:40px">*</text>
<text x="3474.2" y="356.1" text-anchor="middle" transform="translate(3474.2,333.9) scale(1.157,0.72) translate(-3474.2,-333.9)">=</text>
<text x="3510.8" y="356.1">2.0</text>
<text x="3385" y="427.4" class="t i">S</text>
<text x="3419.4" y="404.4" style="font-size:40px">*</text>
<text x="3474.2" y="427.4" text-anchor="middle" transform="translate(3474.2,405.2) scale(1.157,0.72) translate(-3474.2,-405.2)">=</text>
<text x="3510.8" y="427.4">2.4</text>
<text x="3385" y="498.7" class="t i">S</text>
<text x="3419.4" y="475.7" style="font-size:40px">*</text>
<text x="3474.2" y="498.7" text-anchor="middle" transform="translate(3474.2,476.5) scale(1.157,0.72) translate(-3474.2,-476.5)">=</text>
<text x="3510.8" y="498.7">2.8</text>
<text x="3385" y="570.0" class="t i">S</text>
<text x="3419.4" y="547.0" style="font-size:40px">*</text>
<text x="3474.2" y="570.0" text-anchor="middle" transform="translate(3474.2,547.8) scale(1.157,0.72) translate(-3474.2,-547.8)">=</text>
<text x="3510.8" y="570.0">3.2</text>
<text x="3385" y="641.3" class="t i">S</text>
<text x="3419.4" y="618.3" style="font-size:40px">*</text>
<text x="3474.2" y="641.3" text-anchor="middle" transform="translate(3474.2,619.1) scale(1.157,0.72) translate(-3474.2,-619.1)">=</text>
<text x="3510.8" y="641.3">4.0</text>
</g>
<text class="t" x="2235.5" y="1335.8" letter-spacing="-0.1">(b) Time history curves of acceleration</text>
</g>
</svg></body></html>
